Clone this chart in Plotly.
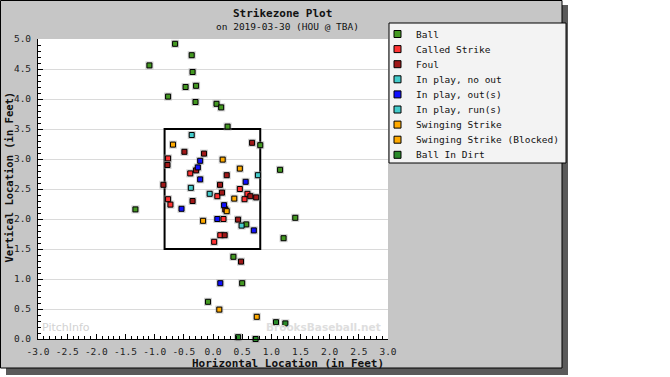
import plotly.graph_objects as go

# ---------------- data ----------------
categories = ["Ball", "Called Strike", "Foul", "In play, no out", "In play, out(s)",
              "In play, run(s)", "Swinging Strike", "Swinging Strike (Blocked)", "Ball In Dirt"]
colors = ["#449922", "#ff3333", "#a01818", "#44cccc", "#1010ff",
          "#44cccc", "#ffaa00", "#ffaa00", "#2a8a2a"]

ball_x = [-0.65, -0.365, -1.09, -0.35, -0.47, -0.29, -0.77, -0.30, 0.06, 0.14,
          0.25, 0.81, 1.15, 1.41, 1.21, 0.57, -1.33, 0.35, 0.50, -0.086]
ball_y = [4.92, 4.73, 4.56, 4.45, 4.20, 4.22, 4.04, 3.95, 3.92, 3.86,
          3.54, 3.23, 2.82, 2.02, 1.68, 1.91, 2.16, 1.37, 0.93, 0.62]
called_x = [-0.77, -0.39, 0.46, 0.074, 0.59, 0.54, -0.77, -0.73, 0.18, 0.125, 0.02]
called_y = [3.01, 2.76, 2.50, 2.38, 2.42, 2.33, 2.33, 2.24, 2.00, 1.73, 1.62]
foul_x = [-0.49, -0.154, -0.78, -0.29, -0.85, 0.67, 0.235, 0.12, 0.154, 0.64,
          0.74, -0.35, 0.21, 0.43, 0.20, 0.48]
foul_y = [3.12, 3.09, 2.90, 2.81, 2.57, 3.27, 2.73, 2.57, 2.44, 2.38,
          2.36, 2.30, 2.16, 1.99, 1.73, 1.29]
noout_x = [-0.365, -0.38, 0.77, -0.057, 0.49]
noout_y = [3.40, 2.52, 2.73, 2.42, 1.89]
out_x = [-0.22, -0.26, -0.22, 0.56, -0.54, 0.19, 0.074, 0.70, 0.125]
out_y = [2.97, 2.86, 2.66, 2.62, 2.17, 2.23, 2.00, 1.81, 0.93]
run_x = []
run_y = []
swing_x = [-0.686, 0.166, 0.46, 0.365, 0.235, -0.17]
swing_y = [3.24, 2.99, 2.84, 2.34, 2.13, 1.97]
blocked_x = [0.108, 0.75]
blocked_y = [0.49, 0.37]
dirt_x = [1.08, 1.24, 0.43, 0.73, 0.86]
dirt_y = [0.28, 0.26, 0.03, 0.00, -0.34]

series_x = [ball_x, called_x, foul_x, noout_x, out_x, run_x, swing_x, blocked_x, dirt_x]
series_y = [ball_y, called_y, foul_y, noout_y, out_y, run_y, swing_y, blocked_y, dirt_y]

zone_left, zone_right, zone_bottom, zone_top = -0.83, 0.81, 1.5, 3.5

x_ticks = [-3.0, -2.5, -2.0, -1.5, -1.0, -0.5, 0.0, 0.5, 1.0, 1.5, 2.0, 2.5, 3.0]
x_ticktext = ["-3.0", "-2.5", "-2.0", "-1.5", "-1.0", "-0.5", "0.0", "0.5", "1.0", "1.5", "2.0", "2.5", "3.0"]
y_ticks = [0.0, 0.5, 1.0, 1.5, 2.0, 2.5, 3.0, 3.5, 4.0, 4.5, 5.0]
y_ticktext = ["0.0", "0.5", "1.0", "1.5", "2.0", "2.5", "3.0", "3.5", "4.0", "4.5", "5.0"]

title_text = "Strikezone Plot"
subtitle_text = "on 2019-03-30 (HOU @ TBA)"
x_title = "Horizontal Location (in Feet)"
y_title = "Vertical Location (in Feet)"

# ---------------- layout helpers ----------------
W, H = 670, 377
L, R, T, B = 38, 388, 39, 339
MONO = "DejaVu Sans Mono"


def px_x(px):
    return (px - L) / (R - L)


def px_y(py):
    return (B - py) / (B - T)


fig = go.Figure()

# halo under markers
all_x = [v for s in series_x for v in s]
all_y = [v for s in series_y for v in s]
fig.add_trace(go.Scatter(x=all_x, y=all_y, mode="markers", showlegend=False, hoverinfo="skip",
                         cliponaxis=False,
                         marker=dict(symbol="square", size=8, color="rgba(150,150,150,0.45)",
                                     line=dict(width=0))))

for name, col, xs, ys in zip(categories, colors, series_x, series_y):
    fig.add_trace(go.Scatter(x=xs, y=ys, mode="markers", name=name, showlegend=False,
                             cliponaxis=False,
                             marker=dict(symbol="square", size=5, color=col,
                                         line=dict(color="black", width=1))))

shapes = []
# panel shadow and panel
shapes.append(dict(type="rect", xref="paper", yref="paper", layer="below",
                   x0=px_x(6), x1=px_x(568), y0=px_y(375), y1=px_y(5),
                   fillcolor="#5a5a5a", line=dict(width=0)))
shapes.append(dict(type="rect", xref="paper", yref="paper", layer="below",
                   x0=px_x(0.5), x1=px_x(562), y0=px_y(368), y1=px_y(0.5),
                   fillcolor="#c6c6c6", line=dict(color="black", width=1)))
shapes.append(dict(type="rect", xref="paper", yref="paper", layer="below",
                   x0=0, x1=1, y0=0, y1=1, fillcolor="white", line=dict(width=0)))
# strike zone
shapes.append(dict(type="rect", xref="x", yref="y", layer="between",
                   x0=zone_left, x1=zone_right, y0=zone_bottom, y1=zone_top,
                   line=dict(color="black", width=2), fillcolor="rgba(0,0,0,0)"))
# legend box
shapes.append(dict(type="rect", xref="paper", yref="paper", layer="above",
                   x0=px_x(389), x1=px_x(566), y0=px_y(163), y1=px_y(23),
                   fillcolor="#f3f3f3", line=dict(color="black", width=1)))

annotations = []
item_y0, item_dy = 34, 15.1
for i, (name, col) in enumerate(zip(categories, colors)):
    yc = item_y0 + i * item_dy
    shapes.append(dict(type="rect", xref="paper", yref="paper", layer="above",
                       x0=px_x(394), x1=px_x(401), y0=px_y(yc + 3.5), y1=px_y(yc - 3.5),
                       fillcolor=col, line=dict(color="black", width=1)))
    annotations.append(dict(text=name, xref="paper", yref="paper", x=px_x(414), y=px_y(yc),
                            xanchor="left", yanchor="middle", showarrow=False,
                            font=dict(family=MONO, size=9.5, color="#111")))

annotations += [
    dict(text="<b>" + title_text + "</b>", xref="paper", yref="paper", x=px_x(282), y=px_y(13),
         xanchor="center", yanchor="middle", showarrow=False,
         font=dict(family=MONO, size=11, color="#111")),
    dict(text=subtitle_text, xref="paper", yref="paper", x=px_x(287), y=px_y(27),
         xanchor="center", yanchor="middle", showarrow=False,
         font=dict(family=MONO, size=9.5, color="#111")),
    dict(text="<b>" + x_title + "</b>", xref="paper", yref="paper", x=px_x(386), y=px_y(363),
         xanchor="right", yanchor="middle", showarrow=False,
         font=dict(family=MONO, size=11, color="#111")),
    dict(text="<b>" + y_title + "</b>", xref="paper", yref="paper", x=px_x(8.5), y=px_y(177),
         xanchor="center", yanchor="middle", showarrow=False, textangle=-90,
         font=dict(family=MONO, size=10.5, color="#111")),
    dict(text="PitchInfo", xref="paper", yref="paper", x=px_x(40), y=px_y(327),
         xanchor="left", yanchor="middle", showarrow=False,
         font=dict(family="DejaVu Sans", size=11, color="#d2d2d2")),
    dict(text="<b>BrooksBaseball.net</b>", xref="paper", yref="paper", x=px_x(383), y=px_y(327),
         xanchor="right", yanchor="middle", showarrow=False,
         font=dict(family="DejaVu Sans", size=10.5, color="#dedede")),
]

fig.update_layout(
    width=W, height=H,
    margin=dict(l=L, r=W - R, t=T, b=H - B, pad=0),
    paper_bgcolor="white", plot_bgcolor="white",
    showlegend=False,
    shapes=shapes, annotations=annotations,
    xaxis=dict(range=[-3, 3], tickvals=x_ticks, ticktext=x_ticktext, showgrid=False,
               zeroline=False, showline=True, linecolor="black", linewidth=1,
               ticks="inside", ticklen=5, tickcolor="black", ticklabelstandoff=4,
               tickfont=dict(family=MONO, size=9.5, color="#222"), automargin=False,
               minor=dict(dtick=0.1, tick0=0, ticks="inside", ticklen=3, tickcolor="black",
                          showgrid=False)),
    yaxis=dict(range=[0, 5], tickvals=y_ticks, ticktext=y_ticktext, showgrid=True,
               gridcolor="#dadada", gridwidth=1,
               zeroline=False, showline=True, linecolor="black", linewidth=1,
               ticks="inside", ticklen=5, tickcolor="black", ticklabelstandoff=4,
               tickfont=dict(family=MONO, size=9.5, color="#222"), automargin=False,
               minor=dict(dtick=0.1, tick0=0, ticks="inside", ticklen=3, tickcolor="black",
                          showgrid=False)),
)

fig.write_html("out.html")
